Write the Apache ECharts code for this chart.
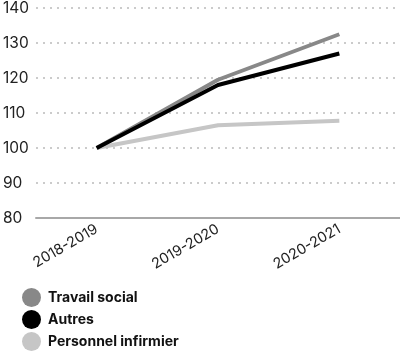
<!DOCTYPE html>
<html><head><meta charset="utf-8">
<script src="https://cdn.jsdelivr.net/npm/echarts@6/dist/echarts.min.js"></script>
<style>html,body{margin:0;padding:0;background:#fff}#c{width:400px;height:354px}</style>
</head><body><div id="c"></div>
<script>
const categories = ['2018-2019', '2019-2020', '2020-2021'];
const travailSocial = [100, 119.5, 132.5];
const autres = [100, 118, 127];
const personnelInfirmier = [100, 106.5, 107.8];
const yTicks = [80, 90, 100, 110, 120, 130, 140];

const chart = echarts.init(document.getElementById('c'), null, {renderer: 'canvas'});
const font = 'Inter, Roboto, sans-serif';
chart.setOption({
  animation: false,
  textStyle: {fontFamily: font},
  grid: {left: 33, top: 8, width: 400, height: 210, containLabel: false},
  legend: {
    orient: 'vertical', left: 17, top: 283, height: 70, itemWidth: 19, itemHeight: 19, itemGap: 3,
    icon: 'circle',
    textStyle: {fontSize: 14, fontWeight: 'bold', color: '#111', fontFamily: font, padding: [0, 0, 0, 2]},
    data: ['Travail social', 'Autres', 'Personnel infirmier']
  },
  xAxis: {
    type: 'category', data: categories, boundaryGap: true,
    axisLine: {lineStyle: {color: '#a8a8a8', width: 2}},
    axisTick: {alignWithLabel: true, length: 4, lineStyle: {color: '#a8a8a8', width: 1}},
    axisLabel: {rotate: 30, fontSize: 14.5, color: '#222', margin: 10, fontFamily: font}
  },
  yAxis: {
    type: 'value', min: yTicks[0], max: yTicks[yTicks.length - 1], interval: 10,
    axisLine: {show: false}, axisTick: {show: false},
    axisLabel: {fontSize: 15.5, color: '#222', align: 'left', margin: 33, fontFamily: font,
      formatter: v => yTicks.includes(v) ? String(v) : ''},
    splitLine: {lineStyle: {color: '#bbb', type: [2, 5], width: 1.5}}
  },
  series: [
    {name: 'Travail social', type: 'line', data: travailSocial, showSymbol: false, symbol: 'none', z: 3,
      lineStyle: {color: '#888', width: 4}, itemStyle: {color: '#888'}},
    {name: 'Autres', type: 'line', data: autres, showSymbol: false, symbol: 'none', z: 4,
      lineStyle: {color: '#000', width: 4}, itemStyle: {color: '#000'}},
    {name: 'Personnel infirmier', type: 'line', data: personnelInfirmier, showSymbol: false, symbol: 'none', z: 2,
      lineStyle: {color: '#c6c6c6', width: 4}, itemStyle: {color: '#c6c6c6'}}
  ]
});
</script></body></html>
